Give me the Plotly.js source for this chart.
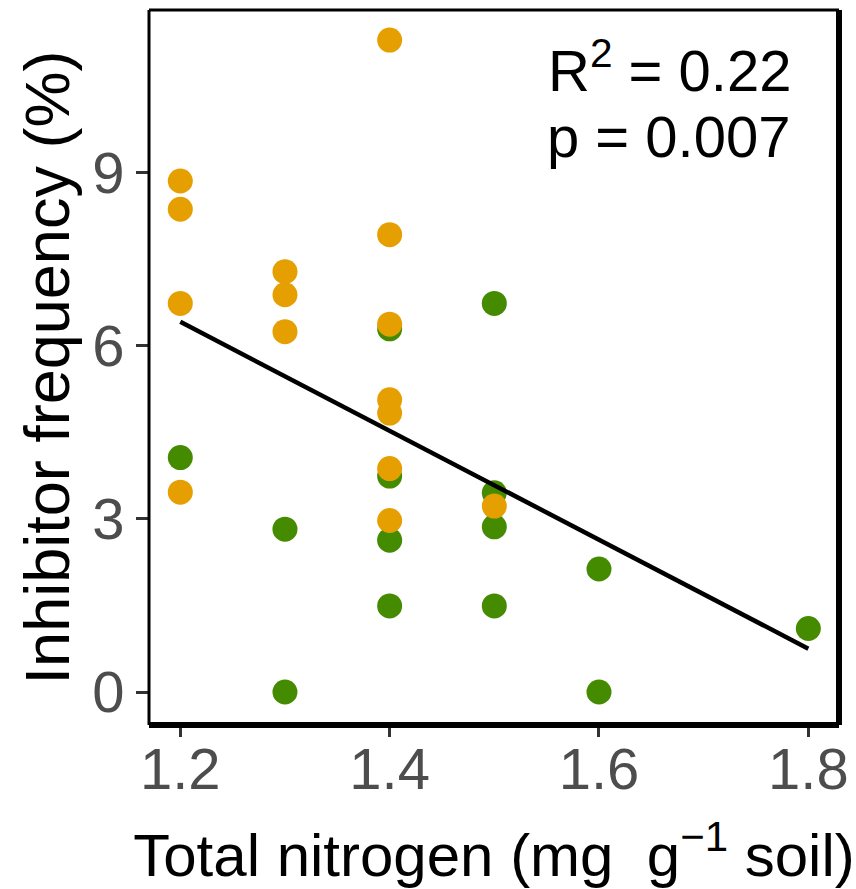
<!DOCTYPE html>
<html>
<head>
<meta charset="utf-8">
<script src="https://cdn.plot.ly/plotly-3.0.1.min.js"></script>
<style>
  html, body { margin: 0; padding: 0; background: #ffffff; }
  #chart { width: 856px; height: 889px; }
</style>
</head>
<body>
<div id="chart"></div>
<script>
// Orange group
var orangeX = [1.2, 1.2, 1.2, 1.2, 1.3, 1.3, 1.3, 1.4, 1.4, 1.4, 1.4, 1.4, 1.4, 1.4, 1.5];
var orangeY = [8.85, 8.36, 6.73, 3.46, 7.28, 6.88, 6.24, 11.29, 7.92, 6.37, 5.06, 4.83, 3.87, 2.97, 3.22];
// Green group
var greenX = [1.2, 1.3, 1.3, 1.4, 1.4, 1.4, 1.4, 1.5, 1.5, 1.5, 1.5, 1.6, 1.6, 1.8];
var greenY = [4.06, 2.82, 0.0, 6.29, 3.74, 2.63, 1.49, 6.73, 3.45, 2.86, 1.49, 2.13, 0.0, 1.10];
// Fitted regression line (end points)
var fitX = [1.2, 1.8];
var fitY = [6.41, 0.75];
// Axis ticks
var xTicks = [1.2, 1.4, 1.6, 1.8];
var xTickText = ["1.2", "1.4", "1.6", "1.8"];
var yTicks = [0, 3, 6, 9];
var yTickText = ["0", "3", "6", "9"];
var statLines = ["R<sup>2</sup> = 0.22", "p = 0.007"];

var FONT = "Liberation Sans, Arial, sans-serif";

var traces = [
  {
    x: greenX, y: greenY, type: "scatter", mode: "markers",
    marker: { color: "#458B00", size: 25, line: { width: 0 } },
    hoverinfo: "x+y", showlegend: false
  },
  {
    x: orangeX, y: orangeY, type: "scatter", mode: "markers",
    marker: { color: "#E69F00", size: 25, line: { width: 0 } },
    hoverinfo: "x+y", showlegend: false
  },
  {
    x: fitX, y: fitY, type: "scatter", mode: "lines",
    line: { color: "#000000", width: 4.5 },
    hoverinfo: "skip", showlegend: false
  }
];

var layout = {
  width: 856, height: 889,
  margin: { l: 149, r: 17, t: 10, b: 164 },
  paper_bgcolor: "#ffffff",
  plot_bgcolor: "#ffffff",
  font: { family: FONT, color: "#000000", size: 58 },
  showlegend: false,
  xaxis: {
    range: [1.1701, 1.8293],
    tickvals: xTicks, ticktext: xTickText,
    ticks: "outside", ticklen: 11, tickwidth: 3, tickcolor: "#333333",
    ticklabelstandoff: -18,
    tickfont: { family: FONT, size: 58, color: "#4D4D4D" },
    showgrid: false, zeroline: false, showline: false,
    title: { text: "Total nitrogen (mg \u00a0g<sup>\u22121</sup> soil)", font: { family: FONT, size: 60, color: "#000000" }, standoff: 35 }
  },
  yaxis: {
    range: [-0.5715, 11.811],
    tickvals: yTicks, ticktext: yTickText,
    ticks: "outside", ticklen: 12, tickwidth: 3, tickcolor: "#333333",
    tickfont: { family: FONT, size: 58, color: "#4D4D4D" },
    showgrid: false, zeroline: false, showline: false,
    title: { text: "Inhibitor frequency (%)", font: { family: FONT, size: 63, color: "#000000" }, standoff: 2 }
  },
  shapes: [
    { type: "line", xref: "paper", yref: "paper", x0: 0, x1: 1, y0: 1, y1: 1, line: { color: "#000", width: 3 } },
    { type: "line", xref: "paper", yref: "paper", x0: 0, x1: 0, y0: 0, y1: 1, line: { color: "#000", width: 3 } },
    { type: "line", xref: "paper", yref: "paper", x0: 1, x1: 1, y0: 0, y1: 1, line: { color: "#000", width: 6 } },
    { type: "line", xref: "paper", yref: "paper", x0: 0, x1: 1, y0: 0, y1: 0, line: { color: "#000", width: 6 } }
  ],
  annotations: [
    { xref: "paper", yref: "paper", x: 0.9333, y: 0.921, xanchor: "right", yanchor: "middle",
      text: statLines[0], showarrow: false, font: { family: FONT, size: 58, color: "#000" } },
    { xref: "paper", yref: "paper", x: 0.9333, y: 0.8236, xanchor: "right", yanchor: "middle",
      text: statLines[1], showarrow: false, font: { family: FONT, size: 58, color: "#000" } }
  ]
};

Plotly.newPlot("chart", traces, layout, { displayModeBar: false, staticPlot: true });
</script>
</body>
</html>
